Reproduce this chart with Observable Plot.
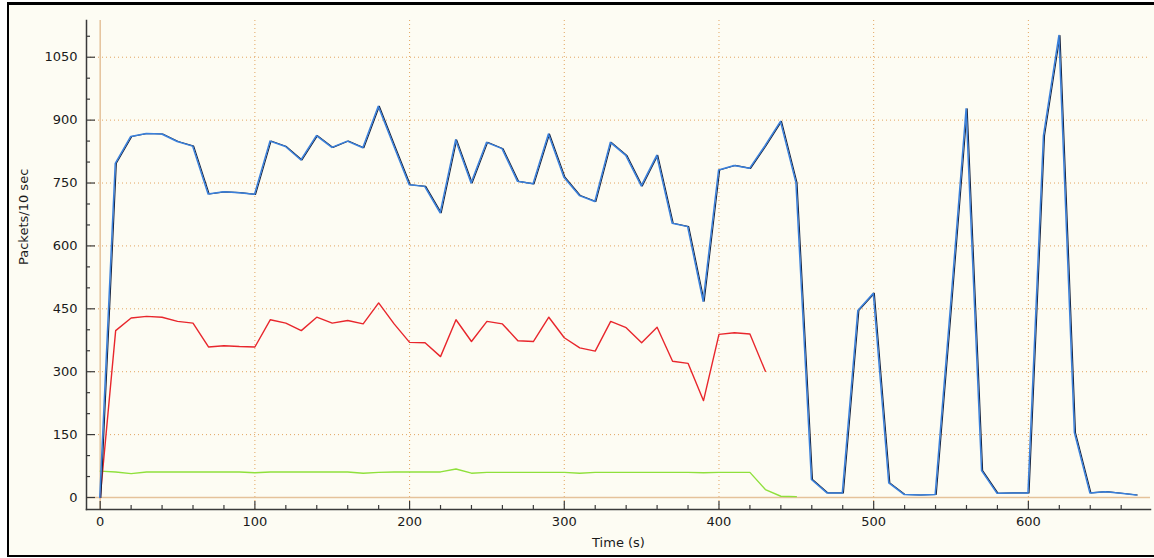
<!DOCTYPE html>
<html><head><meta charset="utf-8">
<script src="https://cdn.jsdelivr.net/npm/d3@7"></script>
<script src="https://cdn.jsdelivr.net/npm/@observablehq/plot@0.6"></script>
<style>
html,body{margin:0;padding:0;background:#fff;overflow:hidden;}
#wrap{position:relative;width:1154px;height:558px;overflow:hidden;}
#frame{position:absolute;left:7px;top:2px;width:1200px;height:555px;box-sizing:border-box;border-left:2px solid #000;border-top:3px solid #000;border-bottom:2px solid #000;box-shadow:0 0 0 20px #fff;pointer-events:none;}
</style></head>
<body><div id="wrap"><div id="chart"></div><div id="frame"></div></div>
<script>
// Time (s) of each 10-second sample
const times = [0,10,20,30,40,50,60,70,80,90,100,110,120,130,140,150,160,170,180,190,200,210,220,230,240,250,260,270,280,290,300,310,320,330,340,350,360,370,380,390,400,410,420,430,440,450,460,470,480,490,500,510,520,530,540,550,560,570,580,590,600,610,620,630,640,650,660,670];
// Blue series (all packets)
const bluePackets = [0,797,861,868,867,849,838,724,729,727,723,850,837,805,863,835,850,834,933,839,746,742,679,853,750,847,832,754,748,867,764,720,706,847,816,743,816,654,646,468,781,792,785,839,897,751,43,11,11,446,487,35,7,6,7,460,927,64,10,11,11,863,1102,155,11,14,10,6];
// Red series
const redPackets = [0,398,428,432,430,420,416,359,362,360,359,424,416,398,430,416,422,414,464,414,370,369,336,424,372,420,414,374,372,430,381,357,349,420,405,369,406,325,320,231,389,393,390,301];
// Green series
const greenPackets = [63,61,57,61,61,61,61,61,61,61,59,61,61,61,61,61,61,58,60,61,61,61,61,68,58,60,60,60,60,60,60,58,60,60,60,60,60,60,60,59,60,60,60,19,3,2];
// Ticks
const xMajor = [0,100,200,300,400,500,600];
const xMinor = [20,40,60,80,120,140,160,180,220,240,260,280,320,340,360,380,420,440,460,480,520,540,560,580,620,640,660];
const yMajor = [0,150,300,450,600,750,900,1050];
const yMinor = [50,100,200,250,350,400,500,550,650,700,800,850,950,1000,1100];

const toRows = (vals) => vals.map((v, i) => ({t: times[i], v}));
const blue = toRows(bluePackets);
const red = toRows(redPackets);
const green = toRows(greenPackets);

const axisColor = "#3a3a3a";
const chart = Plot.plot({
  width: 1154, height: 558,
  marginLeft: 86, marginRight: 4, marginTop: 20, marginBottom: 49,
  style: "background:#fdfcf3;font-family:'DejaVu Sans',Verdana,sans-serif;font-size:13px;color:#1a1a1a;",
  x: {domain: [-8.85, 678.95], axis: null},
  y: {domain: [-28.6, 1137.6], axis: null},
  marks: [
    Plot.gridX(xMajor.filter(d => d !== 0), {stroke: "#e2a560", strokeOpacity: 1, strokeDasharray: "1,3"}),
    Plot.gridY(yMajor.filter(d => d !== 0), {stroke: "#e2a560", strokeOpacity: 1, strokeDasharray: "1,3"}),
    Plot.ruleX([0], {stroke: "#e5c29a", strokeWidth: 1.5}),
    Plot.ruleY([0], {stroke: "#e5c29a", strokeWidth: 1.5}),
    Plot.line(green, {x: "t", y: "v", stroke: "#8fe03c", strokeWidth: 1.4}),
    Plot.line(red, {x: "t", y: "v", stroke: "#e8262c", strokeWidth: 1.4}),
    Plot.line(blue, {x: "t", y: "v", stroke: "#17223b", strokeWidth: 1.1, dx: 0.7}),
    Plot.line(blue, {x: "t", y: "v", stroke: "#3a80dc", strokeWidth: 1.5, dx: -0.4}),
    Plot.frame({anchor: "left", stroke: axisColor, strokeWidth: 1.5}),
    Plot.frame({anchor: "bottom", stroke: axisColor, strokeWidth: 1.5}),
    Plot.tickY(yMajor, {y: d => d, stroke: axisColor, strokeWidth: 1.2, insetRight: 1055}),
    Plot.tickY(yMinor, {y: d => d, stroke: axisColor, strokeWidth: 1.2, insetRight: 1060}),
    Plot.tickX(xMajor, {x: d => d, stroke: axisColor, strokeWidth: 1.2, insetTop: 481}),
    Plot.tickX(xMinor, {x: d => d, stroke: axisColor, strokeWidth: 1.2, insetTop: 485}),
    Plot.axisY(yMajor, {tickSize: 0, tickPadding: 9, label: null, tickFormat: d => String(d), fontSize: 13}),
    Plot.axisX(xMajor, {tickSize: 0, tickPadding: 7, label: null, tickFormat: d => String(d), fontSize: 13}),
    Plot.text(["Packets/10 sec"], {frameAnchor: "left", rotate: -90, dx: -63, fontSize: 13}),
    Plot.text(["Time (s)"], {frameAnchor: "bottom", dy: 37, fontSize: 13})
  ]
});
document.getElementById("chart").appendChild(chart);
</script>
</body></html>
